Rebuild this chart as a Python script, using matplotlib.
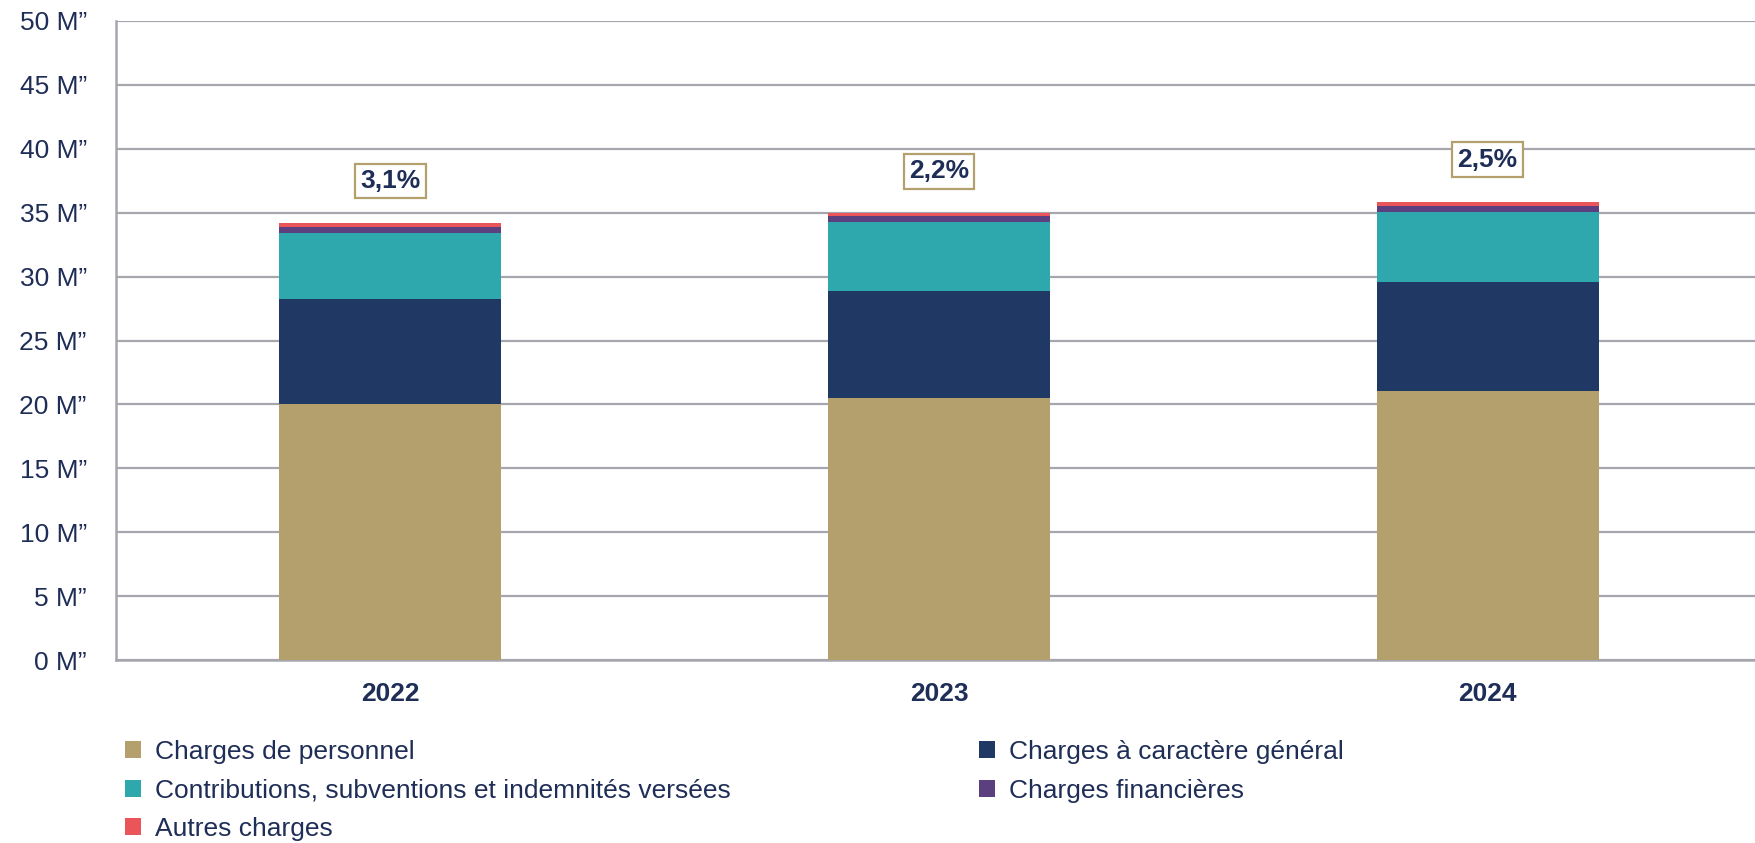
import matplotlib
matplotlib.use("Agg")
import matplotlib.pyplot as plt
from matplotlib.patches import Patch
import numpy as np

plt.rcParams['font.family'] = ['Liberation Sans', 'DejaVu Sans']

years = ["2022", "2023", "2024"]
personnel = [20.0, 20.5, 21.05]
general = [8.25, 8.4, 8.55]
contributions = [5.2, 5.35, 5.45]
financieres = [0.45, 0.47, 0.5]
autres = [0.27, 0.22, 0.3]
growth_labels = ["3,1%", "2,2%", "2,5%"]
series_names = ["Charges de personnel", "Charges à caractère général",
                "Contributions, subventions et indemnités versées",
                "Charges financières", "Autres charges"]
yticks = [0, 5, 10, 15, 20, 25, 30, 35, 40, 45, 50]

colors = ["#B3A06C", "#1F3864", "#2FA8AD", "#5C3F7F", "#E95558"]
navy = "#1F2E57"
grid_c = "#A6A6AE"

fig = plt.figure(figsize=(17.56, 8.43), dpi=100)
ax = fig.add_axes([116/1756, 183/843, 1646/1756, (660-21)/843])

x = np.arange(len(years))
data = [personnel, general, contributions, financieres, autres]
bottom = np.zeros(len(years))
handles = []
for vals, col, name in zip(data, colors, series_names):
    ax.bar(x, vals, width=0.405, bottom=bottom, color=col, zorder=3)
    bottom = bottom + np.array(vals)
    handles.append(Patch(facecolor=col, label=name))

for xi, top, lab in zip(x, bottom, growth_labels):
    ax.text(xi, top + 3.3, lab, ha='center', va='center', fontsize=19,
            fontweight='bold', color=navy, zorder=5,
            bbox=dict(boxstyle='square,pad=0.2', facecolor='white',
                      edgecolor='#B3A06C', linewidth=1.6))

ax.set_xlim(-0.5, 2.5)
ax.set_ylim(0, 50)
ax.set_yticks(yticks)
ax.set_yticklabels([f"{v} M\u201d" for v in yticks], fontsize=19, color=navy)
ax.set_xticks(x)
ax.set_xticklabels(years, fontsize=19, fontweight='bold', color=navy)
ax.tick_params(axis='y', length=0, pad=21)
ax.tick_params(axis='x', length=0, pad=16)
ax.yaxis.grid(True, color=grid_c, linewidth=1.6, zorder=0)
ax.set_axisbelow(True)
for s in ['top', 'right']:
    ax.spines[s].set_visible(False)
for s in ['left', 'bottom']:
    ax.spines[s].set_color(grid_c)
    ax.spines[s].set_linewidth(1.8)

order = [0, 2, 4, 1, 3]
leg = fig.legend([handles[i] for i in order], [series_names[i] for i in order],
                 ncol=2, loc='upper left', bbox_to_anchor=(125/1756, 1 - 740/843),
                 frameon=False, fontsize=19, handlelength=0.6, handleheight=0.6,
                 handletextpad=0.55, columnspacing=9.4, labelspacing=0.55,
                 borderaxespad=0, borderpad=0)
for t in leg.get_texts():
    t.set_color(navy)

fig.savefig("out.png", dpi=100, facecolor='white')
